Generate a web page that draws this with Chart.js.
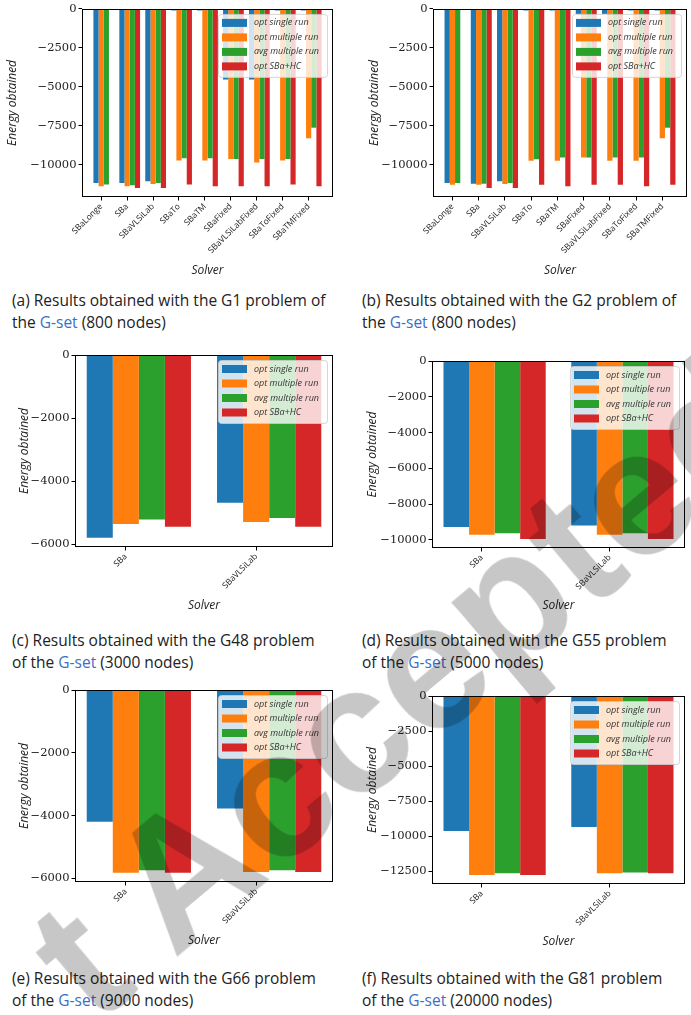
<!DOCTYPE html>
<html>
<head>
<meta charset="utf-8">
<script src="https://cdn.jsdelivr.net/npm/chart.js@4.4.0/dist/chart.umd.min.js"></script>
<style>
    body { margin: 0; background: #fff; }
    #page { position: relative; width: 691px; height: 1015px; overflow: hidden; background: #fff; }
    .panel { position: absolute; }
    .caption {
        position: absolute;
        font-family: 'Open Sans', sans-serif;
        font-size: 15.5px;
        line-height: 22px;
        color: #222;
        white-space: nowrap;
    }
    .caption .gset { color: #3a6fc4; }
    #watermark {
        position: absolute;
        left: 55px;
        top: 979px;
        transform-origin: 0 0;
        transform: rotate(-40deg);
        font-family: 'Liberation Sans', sans-serif;
        font-weight: bold;
        font-size: 180px;
        line-height: 0;
        color: rgba(0, 0, 0, 0.22);
        white-space: pre;
        pointer-events: none;
    }
</style>
</head>
<body>
<div id="page"></div>
<script>
const SERIES_LABELS = ['opt single run', 'opt multiple run', 'avg multiple run', 'opt SBa+HC'];
const SERIES_COLORS = ['#1f77b4', '#ff7f0e', '#2ca02c', '#d62728'];

const solversSmall = ['SBaLonge', 'SBa', 'SBaVLSiLab', 'SBaTo', 'SBaTM', 'SBaFixed', 'SBaVLSiLabFixed', 'SBaToFixed', 'SBaTMFixed'];
const solversLarge = ['SBa', 'SBaVLSiLab'];

// G1 (800 nodes)
const g1OptSingle = [-11170, -11170, -11060, -100, -100, -4530, -4530, -100, -100];
const g1OptMultiple = [-11380, -11380, -11230, -9720, -9720, -9620, -9850, -9720, -8300];
const g1AvgMultiple = [-11270, -11310, -11170, -9580, -9580, -9620, -9620, -9620, -7620];
const g1OptHC = [null, -11490, -11490, -11270, -11380, -11380, -11380, -11270, -11380];

// G2 (800 nodes)
const g2OptSingle = [-11170, -11210, -11060, -100, -100, -320, -320, -100, -100];
const g2OptMultiple = [-11280, -11280, -11230, -9745, -9745, -9530, -9745, -9745, -8300];
const g2AvgMultiple = [-11170, -11210, -11170, -9640, -9530, -9530, -9530, -9530, -7620];
const g2OptHC = [null, -11490, -11490, -11280, -11380, -11280, -11280, -11380, -11280];

// G48 (3000 nodes)
const g48OptSingle = [-5790, -4680];
const g48OptMultiple = [-5350, -5290];
const g48AvgMultiple = [-5210, -5160];
const g48OptHC = [-5440, -5440];

// G55 (5000 nodes)
const g55OptSingle = [-9290, -9200];
const g55OptMultiple = [-9720, -9720];
const g55AvgMultiple = [-9630, -9630];
const g55OptHC = [-9960, -9960];

// G66 (9000 nodes)
const g66OptSingle = [-4190, -3770];
const g66OptMultiple = [-5820, -5790];
const g66AvgMultiple = [-5740, -5740];
const g66OptHC = [-5820, -5790];

// G81 (20000 nodes)
const g81OptSingle = [-9620, -9340];
const g81OptMultiple = [-12760, -12640];
const g81AvgMultiple = [-12640, -12570];
const g81OptHC = [-12760, -12640];

const ticksG1 = [0, -2500, -5000, -7500, -10000];
const ticksG48 = [0, -2000, -4000, -6000];
const ticksG55 = [0, -2000, -4000, -6000, -8000, -10000];
const ticksG81 = [0, -2500, -5000, -7500, -10000, -12500];

const captionsA = ['(a) Results obtained with the G1 problem of', 'the G-set (800 nodes)'];
const captionsB = ['(b) Results obtained with the G2 problem of', 'the G-set (800 nodes)'];
const captionsC = ['(c) Results obtained with the G48 problem', 'of the G-set (3000 nodes)'];
const captionsD = ['(d) Results obtained with the G55 problem', 'of the G-set (5000 nodes)'];
const captionsE = ['(e) Results obtained with the G66 problem', 'of the G-set (9000 nodes)'];
const captionsF = ['(f) Results obtained with the G81 problem', 'of the G-set (20000 nodes)'];

// matplotlib-like bar layout: 4 bars of width 0.2, tick under the second bar
const BAR_WIDTH = 0.2;
const BAR_SHIFT = BAR_WIDTH / 2;

const panels = [
    { solvers: solversSmall, series: [g1OptSingle, g1OptMultiple, g1AvgMultiple, g1OptHC], yTicks: ticksG1, captions: captionsA,
      box: { left: 0, top: 0, width: 345, height: 285 }, plot: { left: 82, right: 333, top: 8, bottom: 197 }, yTitleX: 13, solverY: 271, captionX: 12, captionY: 289 },
    { solvers: solversSmall, series: [g2OptSingle, g2OptMultiple, g2AvgMultiple, g2OptHC], yTicks: ticksG1, captions: captionsB,
      box: { left: 346, top: 0, width: 345, height: 285 }, plot: { left: 433, right: 687, top: 8, bottom: 197 }, yTitleX: 375, solverY: 271, captionX: 362, captionY: 289 },
    { solvers: solversLarge, series: [g48OptSingle, g48OptMultiple, g48AvgMultiple, g48OptHC], yTicks: ticksG48, captions: captionsC,
      box: { left: 0, top: 345, width: 345, height: 275 }, plot: { left: 75, right: 333, top: 355, bottom: 547 }, yTitleX: 25, solverY: 606, captionX: 12, captionY: 629 },
    { solvers: solversLarge, series: [g55OptSingle, g55OptMultiple, g55AvgMultiple, g55OptHC], yTicks: ticksG55, captions: captionsD,
      box: { left: 346, top: 345, width: 345, height: 275 }, plot: { left: 432, right: 685, top: 361, bottom: 548 }, yTitleX: 373, solverY: 606, captionX: 362, captionY: 629 },
    { solvers: solversLarge, series: [g66OptSingle, g66OptMultiple, g66AvgMultiple, g66OptHC], yTicks: ticksG48, captions: captionsE,
      box: { left: 0, top: 680, width: 345, height: 275 }, plot: { left: 75, right: 333, top: 690, bottom: 882 }, yTitleX: 25, solverY: 941, captionX: 12, captionY: 967 },
    { solvers: solversLarge, series: [g81OptSingle, g81OptMultiple, g81AvgMultiple, g81OptHC], yTicks: ticksG81, captions: captionsF,
      box: { left: 346, top: 680, width: 345, height: 275 }, plot: { left: 432, right: 685, top: 696, bottom: 884 }, yTitleX: 373, solverY: 942, captionX: 362, captionY: 967 }
];

const framePlugin = {
    id: 'frame',
    afterDatasetsDraw(chart) {
        const { ctx, chartArea: a } = chart;
        ctx.save();
        ctx.strokeStyle = '#000';
        ctx.lineWidth = 1;
        ctx.strokeRect(Math.round(a.left) + 0.5, Math.round(a.top) + 0.5, Math.round(a.right - a.left) - 1, Math.round(a.bottom - a.top) - 1);
        ctx.restore();
    }
};

// matplotlib style legend in the upper right corner of the axes
const insideLegend = {
    id: 'insideLegend',
    afterDraw(chart) {
        const { ctx, chartArea: a } = chart;
        const w = 109, rowH = 14.5, h = 63;
        const x = a.right - 6 - w;
        const y = a.top + 5;
        ctx.save();
        ctx.beginPath();
        ctx.roundRect(x + 0.5, y + 0.5, w, h, 3);
        ctx.fillStyle = 'rgba(255, 255, 255, 0.8)';
        ctx.fill();
        ctx.strokeStyle = 'rgba(204, 204, 204, 0.8)';
        ctx.lineWidth = 1;
        ctx.stroke();
        ctx.font = 'italic 9px "Open Sans"';
        ctx.textBaseline = 'middle';
        chart.data.datasets.forEach((ds, i) => {
            const cy = y + 9 + i * rowH;
            ctx.fillStyle = ds.backgroundColor;
            ctx.fillRect(x + 4, cy - 4, 25, 8);
            ctx.fillStyle = '#333';
            ctx.fillText(ds.label, x + 36, cy);
        });
        ctx.restore();
    }
};

function formatTick(v) {
    return v === 0 ? '0' : '\u2212' + Math.abs(v);
}

function addCaption(p) {
    const div = document.createElement('div');
    div.className = 'caption';
    div.style.left = p.captionX + 'px';
    div.style.top = p.captionY + 'px';
    div.innerHTML = p.captions.map(line => line.replace('G-set', '<span class="gset">G-set</span>')).join('<br>');
    document.getElementById('page').appendChild(div);
}

function buildPanel(p) {
    const canvas = document.createElement('canvas');
    canvas.className = 'panel';
    canvas.width = p.box.width;
    canvas.height = p.box.height;
    canvas.style.left = p.box.left + 'px';
    canvas.style.top = p.box.top + 'px';
    canvas.style.width = p.box.width + 'px';
    canvas.style.height = p.box.height + 'px';
    document.getElementById('page').appendChild(canvas);

    const yAxisWidth = p.plot.left - p.box.left;
    const xAxisHeight = p.box.top + p.box.height - p.plot.bottom;
    const titleHalf = 12 * 1.2 / 2;

    const n = p.solvers.length;
    const xMargin = 0.05 * (n - 1 + 4 * BAR_WIDTH);
    const xMin = -1.5 * BAR_WIDTH - xMargin;
    const xMax = n - 1 + 2.5 * BAR_WIDTH + xMargin;
    const values = p.series.flat().filter(v => v !== null);
    const yMin = Math.min(...values) * 1.05;

    new Chart(canvas, {
        type: 'bar',
        data: {
            datasets: p.series.map((vals, k) => ({
                label: SERIES_LABELS[k],
                data: vals.map((v, i) => ({ x: i + BAR_SHIFT, y: v })),
                backgroundColor: SERIES_COLORS[k],
                borderWidth: 0,
                categoryPercentage: 4 * BAR_WIDTH,
                barPercentage: 1.0
            }))
        },
        options: {
            responsive: false,
            animation: false,
            layout: {
                autoPadding: false,
                padding: { top: p.plot.top - p.box.top, right: p.box.left + p.box.width - p.plot.right, bottom: 0, left: 0 }
            },
            plugins: {
                legend: { display: false },
                tooltip: { enabled: false }
            },
            scales: {
                x: {
                    type: 'linear',
                    min: xMin,
                    max: xMax,
                    offset: false,
                    afterBuildTicks: (scale) => { scale.ticks = p.solvers.map((_, i) => ({ value: i })); },
                    afterFit: (scale) => { scale.height = xAxisHeight; },
                    grid: { display: true, offset: false, drawOnChartArea: false, color: '#000', tickLength: 3.5 },
                    border: { display: false },
                    ticks: {
                        autoSkip: false,
                        minRotation: 45,
                        maxRotation: 45,
                        padding: 1,
                        color: '#222',
                        font: { family: 'Open Sans', size: 8.5 },
                        callback: (v) => p.solvers[v]
                    },
                    title: {
                        display: true,
                        text: 'Solver',
                        color: '#222',
                        font: { family: 'Open Sans', size: 12, style: 'italic' },
                        padding: { top: 0, bottom: p.box.top + p.box.height - p.solverY - titleHalf }
                    }
                },
                y: {
                    min: yMin,
                    max: 0,
                    afterBuildTicks: (scale) => { scale.ticks = p.yTicks.map(v => ({ value: v })); },
                    afterFit: (scale) => { scale.width = yAxisWidth; },
                    grid: { display: true, drawOnChartArea: false, color: '#000', tickLength: 3.5 },
                    border: { display: false },
                    ticks: {
                        autoSkip: false,
                        padding: 2,
                        color: '#222',
                        font: { family: 'DejaVu Serif', size: 11.5 },
                        callback: formatTick
                    },
                    title: {
                        display: true,
                        text: 'Energy obtained',
                        color: '#222',
                        font: { family: 'Open Sans', size: 12, style: 'italic' },
                        padding: { top: p.yTitleX - p.box.left - titleHalf, bottom: 0 }
                    }
                }
            }
        },
        plugins: [framePlugin, insideLegend]
    });

    addCaption(p);
}

document.addEventListener('DOMContentLoaded', () => {
    panels.forEach(buildPanel);
    const mark = document.createElement('div');
    mark.id = 'watermark';
    mark.textContent = 't Accepted';
    document.getElementById('page').appendChild(mark);
});
</script>
</body>
</html>
